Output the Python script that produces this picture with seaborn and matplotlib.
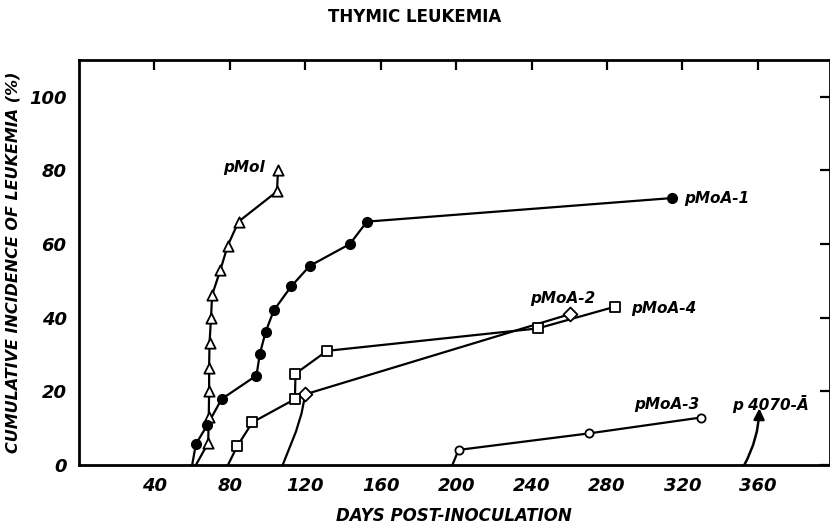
from matplotlib import pyplot as plt
import seaborn as sns

# Days post-inoculation and cumulative incidence (%)
pmol_days = [68.5, 68.8, 69, 69, 69.2, 70, 70.6, 75, 78.8, 84.6, 105, 105.5]
pmol_pct = [6, 13, 20, 26.4, 33, 40, 46.2, 53, 59.5, 66.1, 74.3, 80]

pmoa1_days = [62, 68.1, 75.6, 94.1, 95.9, 99, 103.3, 112.5, 122.4, 143.6, 152.7, 314.5]
pmoa1_pct = [5.7, 10.9, 17.9, 24.3, 30.2, 36.2, 42, 48.5, 54.1, 60, 66.1, 72.5]

pmoa2_days = [120, 260.5]
pmoa2_pct = [19.2, 41]

pmoa4_days = [84, 92, 114.5, 114.8, 131.5, 243.3, 284.3]
pmoa4_pct = [5.2, 11.6, 17.9, 24.8, 31, 37.1, 43]

pmoa3_days = [201.3, 270.7, 329.9]
pmoa3_pct = [4.1, 8.6, 12.9]

# Where each hand-drawn curve leaves the x axis (no marker there)
start_days = {'pMol': [62], 'pMoA-1': [60], 'pMoA-2': [108, 115, 118],
              'pMoA-4': [79], 'pMoA-3': [198]}
start_pct = {'pMol': [0], 'pMoA-1': [0], 'pMoA-2': [0, 9, 14],
             'pMoA-4': [0], 'pMoA-3': [0]}

# p4070-A is only an arrow
arrow_days = [352.8, 360.8]
arrow_pct = [0, 15.4]

x_ticks = [40, 80, 120, 160, 200, 240, 280, 320, 360]
y_ticks = [0, 20, 40, 60, 80, 100]

TEXT = dict(fontweight='bold', style='italic', color='black')


def draw_series(ax, name, days, pct, marker, filled, size):
    """
    Draw one curve with its markers.

    :param ax: axis to draw on
    :param name: series name (key into start arrays)
    """
    line_x = start_days[name] + days
    line_y = start_pct[name] + pct
    sns.lineplot(x=line_x, y=line_y, sort=False, estimator=None, color='black',
                 linewidth=1.6, ax=ax, zorder=2)
    sns.scatterplot(x=days, y=pct, marker=marker, s=size,
                    facecolor='black' if filled else 'white',
                    edgecolor='black', linewidth=1.3, ax=ax, zorder=3)


sns.set_style('white')
plt.rcParams['font.family'] = ['DejaVu Sans']
plt.rcParams['text.color'] = 'black'

fig = plt.figure(figsize=(8.3, 5.23), dpi=100)
ax = fig.add_axes([0.0952, 0.1109, 0.9042, 0.7744])

draw_series(ax, 'pMol', pmol_days, pmol_pct, '^', False, 55)
draw_series(ax, 'pMoA-1', pmoa1_days, pmoa1_pct, 'o', True, 45)
draw_series(ax, 'pMoA-2', pmoa2_days, pmoa2_pct, 'D', False, 50)
draw_series(ax, 'pMoA-4', pmoa4_days, pmoa4_pct, 's', False, 55)
draw_series(ax, 'pMoA-3', pmoa3_days, pmoa3_pct, 'o', False, 35)

# Arrow of p4070-A
ax.annotate('', xy=(arrow_days[1], arrow_pct[1]), xytext=(arrow_days[0], arrow_pct[0]),
            arrowprops=dict(arrowstyle='-|>', color='black', lw=1.8,
                            mutation_scale=16, connectionstyle='arc3,rad=0.12',
                            shrinkA=0, shrinkB=0))

# Curve labels
ax.text(98.5, 80.7, 'pMol', ha='right', va='center', fontsize=11, **TEXT)
ax.text(321, 72.5, 'pMoA-1', ha='left', va='center', fontsize=11, **TEXT)
ax.text(239, 45.3, 'pMoA-2', ha='left', va='center', fontsize=11, **TEXT)
ax.text(292.8, 42.6, 'pMoA-4', ha='left', va='center', fontsize=11, **TEXT)
ax.text(294.6, 16.3, 'pMoA-3', ha='left', va='center', fontsize=11, **TEXT)
ax.text(346.6, 16.6, 'p 4070-Ā', ha='left', va='center', fontsize=11, **TEXT)

# Axes limits, ticks and frame
ax.set_xlim(0, 398)
ax.set_ylim(0, 110)
ax.set_xticks(x_ticks)
ax.set_yticks(y_ticks)
ax.tick_params(direction='in', length=7, width=1.6, top=True, right=True,
               labelsize=13, pad=9, colors='black')
for lab in ax.get_xticklabels() + ax.get_yticklabels():
    lab.set_fontweight('bold')
    lab.set_style('italic')
for spine in ax.spines.values():
    spine.set_linewidth(2)
    spine.set_color('black')

ax.set_xlabel('DAYS POST-INOCULATION', fontsize=12, labelpad=8, **TEXT)
ax.set_ylabel('CUMULATIVE INCIDENCE OF LEUKEMIA (%)', fontsize=11.5, labelpad=6, **TEXT)
fig.suptitle('THYMIC LEUKEMIA', y=0.985, fontsize=12, fontweight='bold', color='black')

plt.savefig('out.png', dpi=100)
